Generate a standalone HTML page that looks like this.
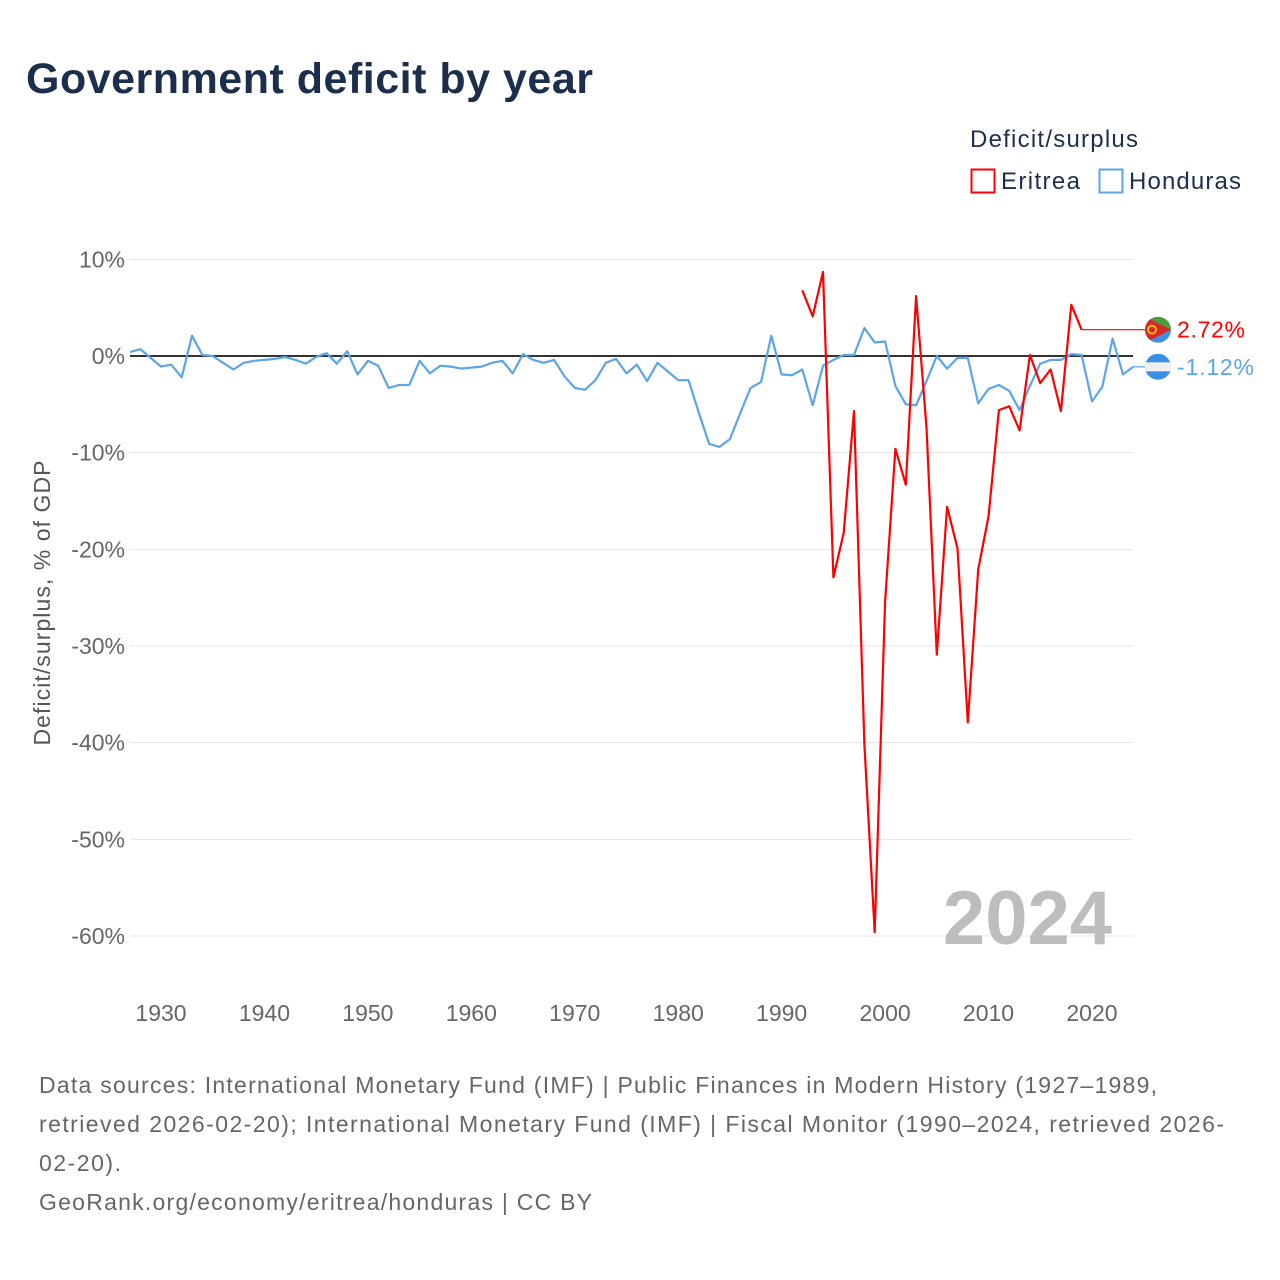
<!DOCTYPE html>
<html><head><meta charset="utf-8"><style>
body{margin:0;background:#fff;font-family:"Liberation Sans",sans-serif;}
#wrap{position:relative;width:1280px;height:1280px;overflow:hidden;}
</style></head><body>
<div id="wrap">
<svg id="chart" width="1280" height="1280" xmlns="http://www.w3.org/2000/svg">
<defs>
<clipPath id="cE"><circle cx="1158" cy="329.7" r="13"/></clipPath>
<clipPath id="cH"><circle cx="1158" cy="366.8" r="13"/></clipPath>
</defs>
<text x="26" y="93" font-size="43" font-weight="bold" fill="#1b2f4d" textLength="567">Government deficit by year</text>
<text x="970" y="147" font-size="24" fill="#1b2f4d" textLength="168">Deficit/surplus</text>
<g><rect x="971.5" y="169.5" width="23" height="23" fill="none" stroke="#ff0000" stroke-width="2"/><text x="1001" y="189" font-size="24" fill="#1b2f4d" textLength="79">Eritrea</text></g>
<g><rect x="1099.5" y="169.5" width="23" height="23" fill="none" stroke="#5ba5e8" stroke-width="2"/><text x="1129" y="189" font-size="24" fill="#1b2f4d" textLength="112">Honduras</text></g>
<g id="grid"></g><g id="yticks"></g><g id="xticks"></g><g id="series"></g>
<text transform="translate(50,603) rotate(-90)" text-anchor="middle" font-size="23" fill="#555" textLength="285">Deficit/surplus, % of GDP</text>
<text x="1112" y="944" text-anchor="end" font-size="76" font-weight="bold" fill="#bdbdbd">2024</text>
<g font-size="23" fill="#666">
<text x="39" y="1093" textLength="1118">Data sources: International Monetary Fund (IMF) | Public Finances in Modern History (1927–1989,</text>
<text x="39" y="1132" textLength="1185">retrieved 2026-02-20); International Monetary Fund (IMF) | Fiscal Monitor (1990–2024, retrieved 2026-</text>
<text x="39" y="1171" textLength="82">02-20).</text>
<text x="39" y="1210" textLength="553">GeoRank.org/economy/eritrea/honduras | CC BY</text>
</g>
</svg></div>
<script>
const hondurasYears=[];for(let y=1927;y<=2024;y++)hondurasYears.push(y);
const hondurasValues=[0.4,0.7,-0.2,-1.1,-0.9,-2.2,2.1,0.1,0,-0.7,-1.4,-0.7,-0.5,-0.4,-0.3,-0.1,-0.4,-0.8,-0.1,0.3,-0.8,0.5,-1.9,-0.5,-1.0,-3.3,-3.0,-3.0,-0.5,-1.8,-1.0,-1.1,-1.3,-1.2,-1.1,-0.7,-0.5,-1.8,0.2,-0.4,-0.7,-0.4,-2.1,-3.3,-3.5,-2.5,-0.7,-0.3,-1.8,-0.9,-2.6,-0.7,-1.6,-2.5,-2.5,-5.9,-9.1,-9.4,-8.6,-5.9,-3.3,-2.7,2.1,-1.9,-2.0,-1.4,-5.1,-1.0,-0.4,0.1,0.1,2.9,1.4,1.5,-3.1,-5.0,-5.1,-2.6,0,-1.3,-0.2,-0.2,-4.9,-3.4,-3.0,-3.6,-5.6,-3.1,-0.8,-0.4,-0.4,0.2,0.1,-4.7,-3.2,1.8,-1.9,-1.12];
const eritreaYears=[];for(let y=1992;y<=2019;y++)eritreaYears.push(y);
const eritreaValues=[6.8,4.1,8.7,-22.9,-18.3,-5.7,-40.2,-59.6,-25.4,-9.6,-13.3,6.2,-7.4,-30.9,-15.6,-19.9,-37.9,-22.1,-16.6,-5.6,-5.2,-7.7,0.1,-2.8,-1.4,-5.7,5.3,2.72];
const yTickValues=[10,0,-10,-20,-30,-40,-50,-60];
const xTickValues=[1930,1940,1950,1960,1970,1980,1990,2000,2010,2020];
const NS='http://www.w3.org/2000/svg';
const X=yr=>161+(yr-1930)*10.344;
const Y=v=>356-v*9.667;
function mk(tag,attrs,parent){const e=document.createElementNS(NS,tag);for(const k in attrs)e.setAttribute(k,attrs[k]);(typeof parent==='string'?document.getElementById(parent):parent).appendChild(e);return e;}
yTickValues.forEach(v=>{
 const l=mk('line',{x1:130,x2:1133,y1:Y(v),y2:Y(v),stroke:v===0?'#333':'#e6e6e6','stroke-width':v===0?2:1},'grid');
 
 
 const t=mk('text',{x:125,y:Y(v)+8,'text-anchor':'end','font-size':23,fill:'#666'},'yticks');
 t.textContent=v+'%';
 
 
});
xTickValues.forEach(yr=>{
 const t=mk('text',{x:X(yr),y:1021,'text-anchor':'middle','font-size':23,fill:'#666'},'xticks');
 t.textContent=yr;
 
 
});
function line(years,vals,color,name){
 const d=years.map((y,i)=>(i?'L':'M')+X(y).toFixed(1)+','+Y(vals[i]).toFixed(1)).join('');
 const p=mk('path',{d:d,fill:'none',stroke:color,'stroke-width':2.2,'stroke-linejoin':'round'},'series');
 
 
}
line(hondurasYears,hondurasValues,'#5ba5e8','honduras-line');
line(eritreaYears,eritreaValues,'#ff0000','eritrea-line');
const eLast=eritreaValues[eritreaValues.length-1], hLast=hondurasValues[hondurasValues.length-1];
const eX=X(eritreaYears[eritreaYears.length-1]);
const ey=Y(eLast), hy=Y(hLast);
const c1=mk('line',{x1:eX,x2:1145,y1:ey,y2:ey,stroke:'#ff0000','stroke-width':1.2},'series');


const c2=mk('line',{x1:X(2024),x2:1145,y1:hy,y2:hy,stroke:'#5ba5e8','stroke-width':1.2},'series');


const gE=mk('g',{'clip-path':'url(#cE)'},'series');


mk('rect',{x:1145,y:ey-13,width:26,height:13,fill:'#4d9a3c'},gE);
mk('rect',{x:1145,y:ey,width:26,height:13,fill:'#418fde'},gE);
mk('path',{d:`M1145,${ey-13}L1171,${ey}L1145,${ey+13}Z`,fill:'#d9262a'},gE);
mk('circle',{cx:1152,cy:ey,r:4,fill:'none',stroke:'#f5c400','stroke-width':1.8},gE);
const gH=mk('g',{'clip-path':'url(#cH)'},'series');


mk('rect',{x:1145,y:hy-13,width:26,height:26,fill:'#3a8ee6'},gH);
mk('rect',{x:1145,y:hy-4.5,width:26,height:9,fill:'#f0f0f0'},gH);
const t1=mk('text',{x:1177,y:ey+8,'font-size':23,fill:'#ff0000',textLength:68},'series');
t1.textContent=eLast.toFixed(2)+'%';


const t2=mk('text',{x:1177,y:hy+8,'font-size':23,fill:'#5ba5e8',textLength:77},'series');
t2.textContent=hLast.toFixed(2)+'%';


</script>
</body></html>
